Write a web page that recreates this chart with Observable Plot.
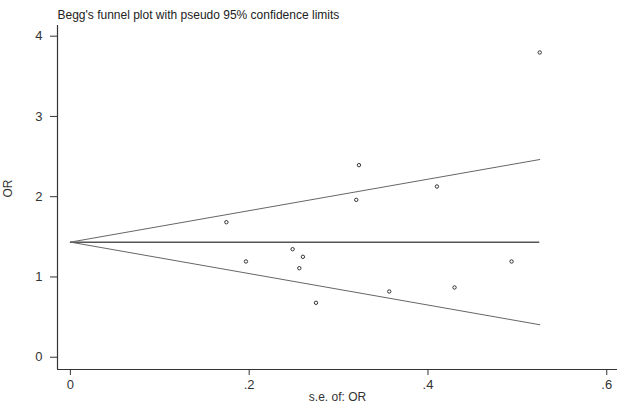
<!DOCTYPE html>
<html>
<head>
<meta charset="utf-8">
<script src="https://cdn.jsdelivr.net/npm/d3@7"></script>
<script src="https://cdn.jsdelivr.net/npm/@observablehq/plot@0.6"></script>
<style>
  html, body { margin: 0; padding: 0; background: #fff; }
  #chart { width: 619px; height: 407px; }
</style>
</head>
<body>
<div id="chart"></div>
<script>
// Study standard errors and odds ratios
const seValues = [0.1745, 0.1964, 0.2486, 0.2561, 0.2601, 0.2747, 0.3198, 0.3228, 0.3567, 0.4100, 0.4297, 0.4935, 0.525];
const orValues = [1.682, 1.193, 1.346, 1.109, 1.251, 0.678, 1.961, 2.393, 0.819, 2.127, 0.869, 1.193, 3.797];
const pooledOR = 1.434;
const xTicks = [0, 0.2, 0.4, 0.6];
const yTicks = [0, 1, 2, 3, 4];
const titleText = "Begg's funnel plot with pseudo 95% confidence limits";
const xLabel = "s.e. of: OR";
const yLabel = "OR";

const studies = seValues.map((s, i) => ({se: s, or: orValues[i]}));
const maxSe = d3.max(seValues);
const upper = [{se: 0, or: pooledOR}, {se: maxSe, or: pooledOR + 1.96 * maxSe}];
const lower = [{se: 0, or: pooledOR}, {se: maxSe, or: pooledOR - 1.96 * maxSe}];

const xDomain = [-0.0144, 0.612];
const yDomain = [-0.153, 4.133];
const font = "'Liberation Sans', Arial, sans-serif";

const chart = Plot.plot({
  width: 619,
  height: 407,
  marginLeft: 57,
  marginRight: 2,
  marginTop: 25,
  marginBottom: 38,
  style: {fontFamily: font, fontSize: "13px", color: "#333", background: "#fff"},
  x: {domain: xDomain},
  y: {domain: yDomain},
  marks: [
    Plot.axisX({ticks: xTicks, tickSize: 6, tickPadding: 4, label: null, fontSize: 13,
      stroke: "#333", fill: "#333",
      tickFormat: d => d === 0 ? "0" : d3.format(".1f")(d).replace(/^0/, "")}),
    Plot.axisY({ticks: yTicks, tickSize: 7, tickPadding: 8, label: null, fontSize: 13,
      stroke: "#333", fill: "#333", tickFormat: d => String(d)}),
    Plot.ruleX([xDomain[0]], {stroke: "#333", strokeWidth: 1.2}),
    Plot.ruleY([yDomain[0]], {stroke: "#333", strokeWidth: 1.2}),
    Plot.ruleY([pooledOR], {x1: 0, x2: maxSe, stroke: "#555", strokeWidth: 1.5}),
    Plot.line(upper, {x: "se", y: "or", stroke: "#666", strokeWidth: 1}),
    Plot.line(lower, {x: "se", y: "or", stroke: "#666", strokeWidth: 1}),
    Plot.dot(studies, {x: "se", y: "or", r: 1.7, stroke: "#333", strokeWidth: 1, fill: "none"}),
    Plot.text([titleText], {frameAnchor: "top-left", dy: -15, dx: 0, text: d => d,
      fontSize: 12, fill: "#222", textAnchor: "start"}),
    Plot.text([xLabel], {frameAnchor: "bottom", dy: 31, text: d => d, fontSize: 12, fill: "#333"}),
    Plot.text([yLabel], {frameAnchor: "left", dx: -49, rotate: -90, text: d => d, fontSize: 12, fill: "#333"})
  ]
});
document.getElementById("chart").appendChild(chart);
</script>
</body>
</html>
